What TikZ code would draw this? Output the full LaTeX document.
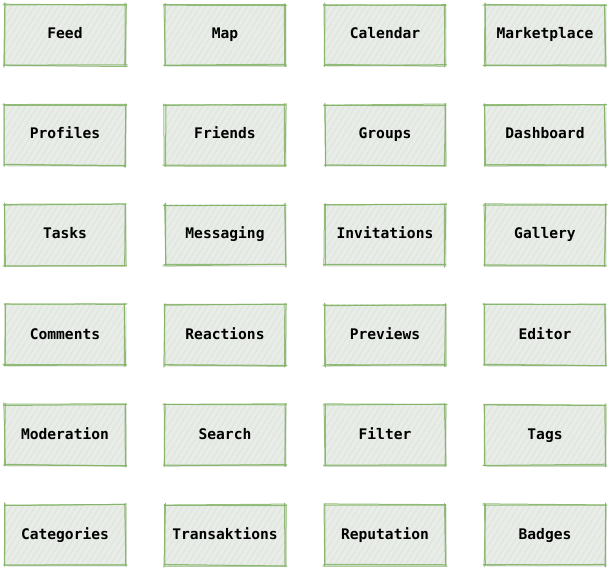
\documentclass[tikz,border=0pt]{standalone}
\usepackage{fontspec}
\setmonofont{DejaVu Sans Mono}
\usepackage{tikz}
\usetikzlibrary{patterns.meta,shadows}
\definecolor{sketchgreen}{RGB}{130,179,102}
\definecolor{paper}{RGB}{233,236,232}
\definecolor{hatch}{RGB}{222,232,220}
\tikzset{
  module/.style={rectangle,minimum width=120pt,minimum height=60pt,inner sep=0pt,
    text height=10.5pt,text depth=2.5pt,
    preaction={fill=paper,drop shadow={shadow xshift=2pt,shadow yshift=-2pt,opacity=0.15}},
    pattern={Lines[angle=58,distance=5pt,line width=1.3pt]},pattern color=hatch,
    font=\ttfamily\bfseries\fontsize{14.6}{16}\selectfont},
  sketchline/.style={draw=sketchgreen,line width=1pt,line cap=round,opacity=0.85},
}
\pgfmathsetseed{42}

\begin{document}
\begin{tikzpicture}[x=1pt,y=-1pt]
        \useasboundingbox (0,0) rectangle (611,572);
        % row 1
        \node (feed) at (65,35) [module] {Feed};
        \node (map) at (225,35) [module] {Map};
        \node (calendar) at (385,35) [module] {Calendar};
        \node (marketplace) at (545,35) [module] {Marketplace};
        % row 2
        \node (profiles) at (65,135) [module] {Profiles};
        \node (friends) at (225,135) [module] {Friends};
        \node (groups) at (385,135) [module] {Groups};
        \node (dashboard) at (545,135) [module] {Dashboard};
        % row 3
        \node (tasks) at (65,235) [module] {Tasks};
        \node (messaging) at (225,235) [module] {Messaging};
        \node (invitations) at (385,235) [module] {Invitations};
        \node (gallery) at (545,235) [module] {Gallery};
        % row 4
        \node (comments) at (65,335) [module] {Comments};
        \node (reactions) at (225,335) [module] {Reactions};
        \node (previews) at (385,335) [module] {Previews};
        \node (editor) at (545,335) [module] {Editor};
        % row 5
        \node (moderation) at (65,435) [module] {Moderation};
        \node (search) at (225,435) [module] {Search};
        \node (filter) at (385,435) [module] {Filter};
        \node (tags) at (545,435) [module] {Tags};
        % row 6
        \node (categories) at (65,535) [module] {Categories};
        \node (transaktions) at (225,535) [module] {Transaktions};
        \node (reputation) at (385,535) [module] {Reputation};
        \node (badges) at (545,535) [module] {Badges};
        % hand drawn borders, two passes each
        \foreach \n in {feed,map,calendar,marketplace,profiles,friends,groups,dashboard,
                        tasks,messaging,invitations,gallery,comments,reactions,previews,editor,
                        moderation,search,filter,tags,categories,transaktions,reputation,badges}{
          \foreach \pass in {1,2}{
            \draw [sketchline] ([xshift=-1pt+rand*1pt,yshift=rand*1pt]\n.north west)
                               -- ([xshift=1pt+rand*1pt,yshift=rand*1pt]\n.north east);
            \draw [sketchline] ([xshift=rand*1pt,yshift=1pt+rand*1pt]\n.north east)
                               -- ([xshift=rand*1pt,yshift=-1pt+rand*1pt]\n.south east);
            \draw [sketchline] ([xshift=1pt+rand*1pt,yshift=rand*1pt]\n.south east)
                               -- ([xshift=-1pt+rand*1pt,yshift=rand*1pt]\n.south west);
            \draw [sketchline] ([xshift=rand*1pt,yshift=-1pt+rand*1pt]\n.south west)
                               -- ([xshift=rand*1pt,yshift=1pt+rand*1pt]\n.north west);
          }
        }
      \end{tikzpicture}
\end{document}
